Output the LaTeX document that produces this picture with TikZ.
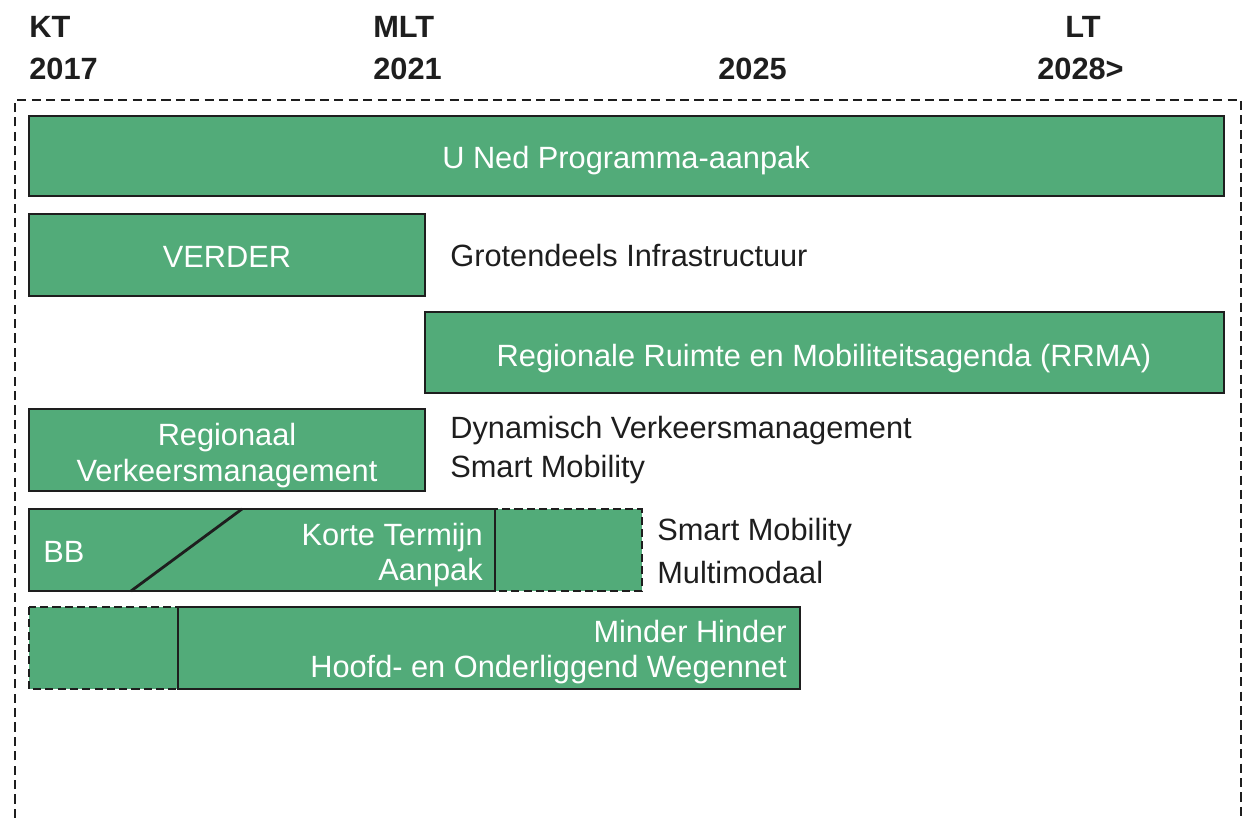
\documentclass[tikz,border=0pt]{standalone}
\usepackage{fontspec}
\setmainfont{Liberation Sans}
\definecolor{barfill}{HTML}{52AB79}
\definecolor{ink}{HTML}{1E1E1E}

\begin{document}
\begin{tikzpicture}[x=0.02cm,y=-0.02cm,
  bar/.style={draw=ink,line width=1.6pt,fill=barfill},
  openbar/.style={bar,dash pattern=on 4.6pt off 2.4pt},
  inbar/.style={text=white,inner sep=0pt,anchor=base,font=\fontsize{17.5}{21}\selectfont},
  side/.style={text=ink,inner sep=0pt,anchor=base west,font=\fontsize{17.5}{21}\selectfont},
  year/.style={text=ink,inner sep=0pt,anchor=base west,font=\bfseries\fontsize{17.5}{21}\selectfont}]
\useasboundingbox (0,0) rectangle (1244,818);

\draw[ink,line width=1.3pt,dash pattern=on 5.2pt off 3pt] (15,818)--(15,100)--(1241,100)--(1241,818);

\node[year] (kt) at (29,37) {KT};
\node[year] (y2017) at (29,79) {2017};
\node[year] (mlt) at (373,37) {MLT};
\node[year] (y2021) at (373,79) {2021};
\node[year] (y2025) at (718,79) {2025};
\node[year] (lt) at (1065,37) {LT};
\node[year] (y2028) at (1037,79) {2028>};

\draw[bar] (29,116) rectangle (1224,196);
\node[inbar] (uned) at (626,168) {U Ned Programma-aanpak};

\draw[bar] (29,214) rectangle (425,296);
\node[inbar] (verder) at (227,267) {VERDER};
\node[side] (infra) at (450,266) {Grotendeels Infrastructuur};

\draw[bar] (425,312) rectangle (1224,393);
\node[inbar] (rrma) at (824,366) {Regionale Ruimte en Mobiliteitsagenda (RRMA)};

\draw[bar] (29,409) rectangle (425,491);
\node[inbar] (regvm1) at (227,445) {Regionaal};
\node[inbar] (regvm2) at (227,481) {Verkeersmanagement};
\node[side] (dvm) at (450,438) {Dynamisch Verkeersmanagement};
\node[side] (sm1) at (450,477) {Smart Mobility};

\draw[openbar] (495,509) rectangle (642,591);
\draw[bar] (29,509) rectangle (495,591);
\draw[ink,line width=1.6pt] (242,509)--(131,591);
\node[inbar,anchor=base west] (bb) at (43,562) {BB};
\node[inbar,anchor=base east] (kta1) at (483,545) {Korte Termijn};
\node[inbar,anchor=base east] (kta2) at (483,580) {Aanpak};
\node[side] (sm2) at (657,540) {Smart Mobility};
\node[side] (multi) at (657,583) {Multimodaal};

\draw[openbar] (29,607) rectangle (178,689);
\draw[bar] (178,607) rectangle (800,689);
\node[inbar,anchor=base east] (mh1) at (787,642) {Minder Hinder};
\node[inbar,anchor=base east] (mh2) at (787,677) {Hoofd- en Onderliggend Wegennet};
\end{tikzpicture}
\end{document}
